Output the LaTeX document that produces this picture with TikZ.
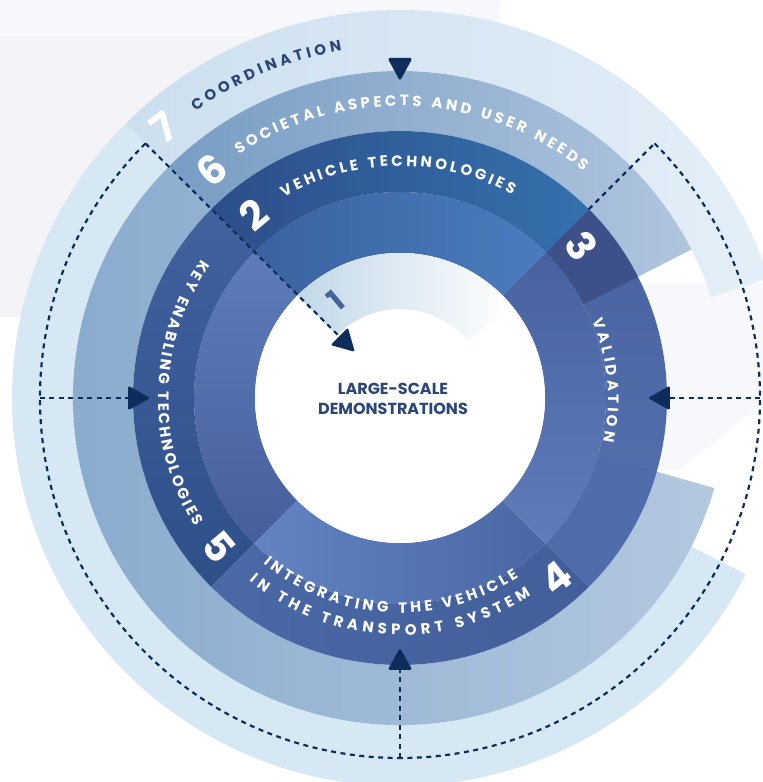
\documentclass[tikz,border=0pt]{standalone}
\usepackage{fontspec}
\setmainfont{Poppins}
\usetikzlibrary{arrows.meta,decorations.text}
\definecolor{navy}{HTML}{0E2D5C}
\definecolor{ctext}{HTML}{2B4677}
\definecolor{bga}{HTML}{F7F8FB}
\definecolor{bgb}{HTML}{F2F4F8}
\definecolor{bgc}{HTML}{F6F8FB}
\definecolor{b7}{HTML}{D7E8F5}
\newcommand\ringsector[5]{\path[#1] (#2:#4) arc[start angle=#2,end angle=#3,radius=#4] -- (#3:#5) arc[start angle=#3,end angle=#2,radius=#5] -- cycle;}
\newcommand\lblfmt{\fontsize{15}{15}\selectfont\bfseries\color{white}}
\newcommand\coordfmt{\fontsize{15}{15}\selectfont\bfseries\color{ctext}}
\begin{document}
\begin{tikzpicture}[x=1pt,y=1pt,
  num/.style={font=\fontsize{40}{40}\selectfont\bfseries, text=white, inner sep=0pt},
  dashline/.style={draw=navy, line width=2.2pt, dash pattern=on 5pt off 4.5pt},
  arrowtip/.style={-{Triangle[round,length=22pt,width=24pt]}},
  arctext/.style={decorate, decoration={text along path, text align=fit to path, text={#1}}}]
\useasboundingbox (-400,-384) rectangle (363,398);
% faint background
\fill[bga] (-400,361) rectangle (100,398);
\fill[bgb] (-400,81) rectangle (0,361);
\fill[bgc] (240,115) -- (363,115) -- (363,-5) -- (280,-72) -- (240,-72) -- cycle;
% band 7
\ringsector{fill=b7}{135}{333}{327}{388}
\ringsector{left color={rgb,255:red,205;green,223;blue,239}, right color={rgb,255:red,227;green,239;blue,248}}{18}{135}{327}{388}
% band 6
\ringsector{left color={rgb,255:red,135;green,170;blue,205}, right color={rgb,255:red,180;green,200;blue,223}}{135}{344}{267}{327}
\ringsector{left color={rgb,255:red,120;green,157;blue,196}, right color={rgb,255:red,176;green,197;blue,222}}{27}{135}{267}{327}
% segment 2 (top)
\ringsector{left color={rgb,255:red,58;green,98;blue,160}, right color={rgb,255:red,74;green,124;blue,189}}{45}{135}{145}{206}
\ringsector{left color={rgb,255:red,44;green,78;blue,138}, right color={rgb,255:red,53;green,113;blue,173}}{45}{135}{206}{267}
% segment 5 (left)
\ringsector{top color={rgb,255:red,94;green,124;blue,186}, bottom color={rgb,255:red,70;green,95;blue,156}}{135}{225}{145}{206}
\ringsector{top color={rgb,255:red,65;green,97;blue,159}, bottom color={rgb,255:red,46;green,80;blue,137}}{135}{225}{206}{267}
% segment 4 (bottom)
\ringsector{left color={rgb,255:red,99;green,131;blue,194}, right color={rgb,255:red,74;green,103;blue,165}}{225}{315}{145}{206}
\ringsector{left color={rgb,255:red,75;green,104;blue,167}, right color={rgb,255:red,66;green,95;blue,155}}{225}{315}{206}{267}
% segment 3 (right)
\ringsector{top color={rgb,255:red,72;green,97;blue,160}, bottom color={rgb,255:red,95;green,125;blue,186}}{-45}{45}{145}{206}
\ringsector{top color={rgb,255:red,72;green,98;blue,160}, bottom color={rgb,255:red,86;green,115;blue,176}}{-45}{45}{206}{267}
\ringsector{fill={rgb,255:red,61;green,80;blue,137}}{27}{45}{206}{267}
\ringsector{fill={rgb,255:red,79;green,108;blue,171}}{-45}{-16}{206}{267}
% centre
\fill[white] (0,0) circle[radius=145];
\ringsector{left color={rgb,255:red,194;green,216;blue,233}, right color=white}{40}{135}{89}{145}
% arc labels
\path[arctext={|\coordfmt|COORDINATION}] (125.5:352) arc[start angle=125.5,end angle=99.5,radius=352];
\path[arctext={|\lblfmt|SOCIETAL ASPECTS AND USER NEEDS}] (123.5:292) arc[start angle=123.5,end angle=51,radius=292];
\path[arctext={|\lblfmt|VEHICLE TECHNOLOGIES}] (120:232) arc[start angle=120,end angle=61,radius=232];
\path[arctext={|\lblfmt|KEY ENABLING TECHNOLOGIES}] (145:242) arc[start angle=145,end angle=212,radius=242];
\path[arctext={|\lblfmt|VALIDATION}] (22:208) arc[start angle=22,end angle=-12,radius=208];
\path[arctext={|\lblfmt|INTEGRATING THE VEHICLE}] (230.5:215) arc[start angle=230.5,end angle=303.5,radius=215];
\path[arctext={|\lblfmt|IN THE TRANSPORT SYSTEM}] (230.5:237) arc[start angle=230.5,end angle=303.5,radius=237];
% numbers
\node[num, rotate=38] (n7) at (-236,271) {7};
\node[num, rotate=40] (n6) at (-188,228) {6};
\node[num, rotate=40] (n2) at (-146,183) {2};
\node[num, rotate=-55] (n3) at (182,152) {3};
\node[num, rotate=38] (n4) at (156,-180) {4};
\node[num, rotate=-50] (n5) at (-181,-149) {5};
\node[num, rotate=40, text={rgb,255:red,68;green,100;blue,152}, font=\fontsize{30}{30}\selectfont\bfseries] (n1) at (-64,98) {1};
% centre text
\node[font=\fontsize{16}{20}\selectfont\bfseries, text=ctext, align=center] (ctr) at (-7,-1) {LARGE-SCALE\\DEMONSTRATIONS};
% connectors
\coordinate (L) at (135:360);
\coordinate (R) at (45:360);
\coordinate (B) at (0,-360);
\coordinate (W) at (-360,0);
\coordinate (E) at (360,0);
\coordinate (Rin) at (45:267);
\coordinate (tl) at (-251,0);
\coordinate (tr) at (249,0);
\coordinate (tb) at (0,-251);
\coordinate (td) at (-46,47);
\draw[dashline] (L) arc[start angle=135,end angle=270,radius=360];
\draw[dashline] (R) arc[start angle=45,end angle=-90,radius=360];
\draw[dashline] (Rin) -- (R);
\draw[dashline,arrowtip] (W) -- (tl);
\draw[dashline,arrowtip] (E) -- (tr);
\draw[dashline,arrowtip] (B) -- (tb);
\draw[dashline,arrowtip] (L) -- (td);
\coordinate (tt) at (0,317);
\fill[navy, rounded corners=2.5pt] (-12.5,340) -- (12.5,340) -- (tt) -- cycle;
\end{tikzpicture}
\end{document}
